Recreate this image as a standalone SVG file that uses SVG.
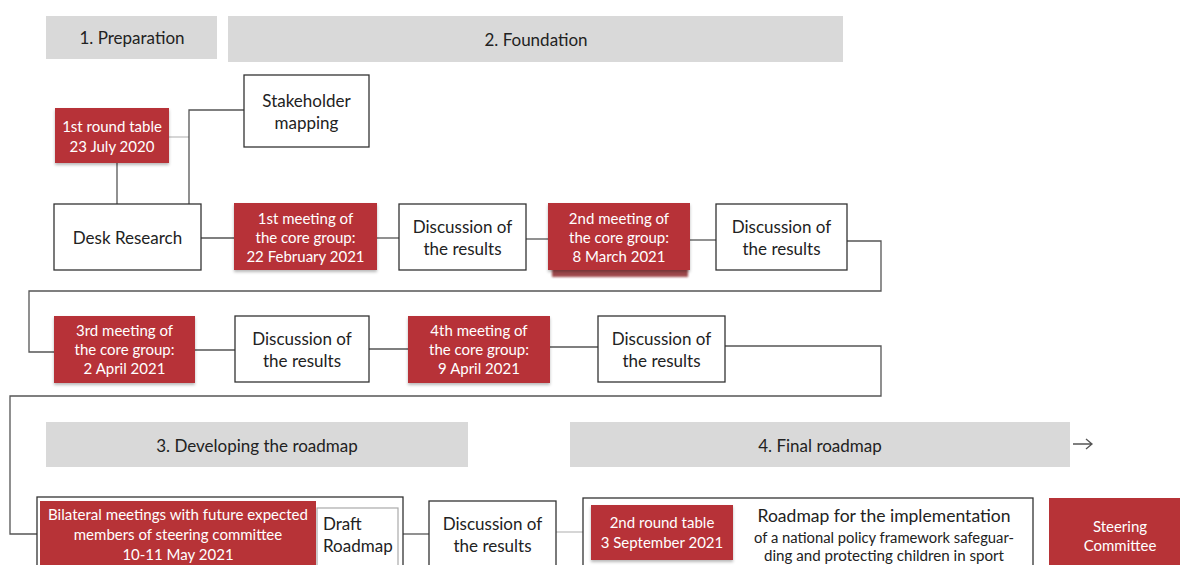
<svg xmlns="http://www.w3.org/2000/svg" width="1180" height="565" viewBox="0 0 1180 565">
  <defs>
    <style>
      .hdr { fill: #d9d9d9; }
      .box { fill: #ffffff; stroke: #333333; stroke-width: 1.3; }
      .red { fill: #b73337; filter: url(#sh); }
      .t { font-family: Lato, "Liberation Sans", sans-serif; fill: #222222; text-anchor: middle; }
      .ht { font-size: 17px; }
      .bt { font-size: 17px; }
      .w { font-family: Lato, "Liberation Sans", sans-serif; fill: #ffffff; text-anchor: middle; font-size: 15px; }
      .conn { fill: none; stroke: #555555; stroke-width: 1.3; }
      .faint { fill: none; stroke: #bbbbbb; stroke-width: 1.2; }
    </style>
    <filter id="sh" x="-10%" y="-10%" width="120%" height="130%">
      <feDropShadow dx="0" dy="2" stdDeviation="1.5" flood-color="#000000" flood-opacity="0.28"/>
    </filter>
    <filter id="blur" x="-10%" y="-50%" width="120%" height="200%">
      <feGaussianBlur stdDeviation="1.2"/>
    </filter>
  </defs>
  <rect width="1180" height="565" fill="#ffffff"/>

  <!-- Phase headers -->
  <g id="hdr1"><rect class="hdr" x="46" y="16" width="171" height="43"/><text class="t ht" x="132" y="44">1. Preparation</text></g>
  <g id="hdr2"><rect class="hdr" x="228" y="16" width="615" height="46"/><text class="t ht" x="536" y="46">2. Foundation</text></g>
  <g id="hdr3"><rect class="hdr" x="46" y="422" width="422" height="45"/><text class="t ht" x="257" y="452">3. Developing the roadmap</text></g>
  <g id="hdr4"><rect class="hdr" x="570" y="422" width="500" height="45"/><text class="t ht" x="820" y="452">4. Final roadmap</text></g>

  <!-- Connectors -->
  <g id="connectors">
    <path class="faint" d="M168,137 H189"/>
    <path class="conn" d="M189,204 V110 H244"/>
    <path class="conn" d="M117,163 V204"/>
    <path class="conn" d="M201,238 H234"/>
    <path class="conn" d="M377,238 H399"/>
    <path class="conn" d="M526,239 H548"/>
    <path class="conn" d="M690,240 H716"/>
    <path class="conn" d="M847,241 H881 V291 H29 V352 H54"/>
    <path class="conn" d="M195,350 H235"/>
    <path class="conn" d="M369,349 H408"/>
    <path class="conn" d="M550,347 H598"/>
    <path class="conn" d="M725,346 H881 V396 H10 V534 H37"/>
    <path class="conn" d="M403,534 H429"/>
    <path class="faint" d="M556,532 H583"/>
    <path class="conn" d="M1073,444 H1092 M1086,439 L1092,444 L1086,449"/>
  </g>

  <!-- Row 1 -->
  <g id="stakeholder"><rect class="box" x="244" y="75" width="125" height="72"/>
    <text class="t bt" x="306.5" y="107">Stakeholder</text><text class="t bt" x="306.5" y="129">mapping</text></g>
  <g id="roundtable1"><rect class="red" x="55" y="108" width="114" height="55"/>
    <text class="w" x="112" y="132">1st round table</text><text class="w" x="112" y="152">23 July 2020</text></g>
  <g id="desk"><rect class="box" x="54" y="204" width="147" height="66"/>
    <text class="t bt" x="127.5" y="244">Desk Research</text></g>
  <g id="meeting1"><rect class="red" x="234" y="203" width="143" height="67"/>
    <text class="w" x="305.5" y="224">1st meeting of</text><text class="w" x="305.5" y="243">the core group:</text><text class="w" x="305.5" y="262">22 February 2021</text></g>
  <g id="disc1"><rect class="box" x="399" y="204" width="127" height="66"/>
    <text class="t bt" x="462.5" y="233">Discussion of</text><text class="t bt" x="462.5" y="255">the results</text></g>
  <g id="meeting2">
    <rect x="552" y="266" width="136" height="11" fill="#8f2a2e" opacity="0.85" filter="url(#blur)"/>
    <rect class="red" x="548" y="203" width="142" height="67"/>
    <text class="w" x="619" y="224">2nd meeting of</text><text class="w" x="619" y="243">the core group:</text><text class="w" x="619" y="262">8 March 2021</text></g>
  <g id="disc2"><rect class="box" x="716" y="204" width="131" height="66"/>
    <text class="t bt" x="781.5" y="233">Discussion of</text><text class="t bt" x="781.5" y="255">the results</text></g>

  <!-- Row 2 -->
  <g id="meeting3"><rect class="red" x="54" y="316" width="141" height="67"/>
    <text class="w" x="124.5" y="336">3rd meeting of</text><text class="w" x="124.5" y="355">the core group:</text><text class="w" x="124.5" y="374">2 April 2021</text></g>
  <g id="disc3"><rect class="box" x="235" y="316" width="134" height="66"/>
    <text class="t bt" x="302" y="345">Discussion of</text><text class="t bt" x="302" y="367">the results</text></g>
  <g id="meeting4"><rect class="red" x="408" y="316" width="142" height="67"/>
    <text class="w" x="479" y="336">4th meeting of</text><text class="w" x="479" y="355">the core group:</text><text class="w" x="479" y="374">9 April 2021</text></g>
  <g id="disc4"><rect class="box" x="598" y="316" width="127" height="66"/>
    <text class="t bt" x="661.5" y="345">Discussion of</text><text class="t bt" x="661.5" y="367">the results</text></g>

  <!-- Row 3 -->
  <g id="bilateral-group">
    <rect class="box" x="37" y="497" width="366" height="80"/>
    <rect x="40" y="501" width="276" height="76" fill="#b73337"/>
    <text class="w" x="178" y="520" font-size="14.5" textLength="260" lengthAdjust="spacingAndGlyphs">Bilateral meetings with future expected</text>
    <text class="w" x="178" y="540" font-size="14.5">members of steering committee</text>
    <text class="w" x="178" y="560" font-size="14.5">10-11 May 2021</text>
  </g>
  <g id="draft"><rect x="317" y="508" width="81" height="70" fill="#ffffff" stroke="#aaaaaa" stroke-width="1.2"/>
    <text class="t bt" x="323" y="530" style="text-anchor:start">Draft</text>
    <text class="t bt" x="323" y="552" style="text-anchor:start">Roadmap</text></g>
  <g id="disc5"><rect class="box" x="429" y="501" width="127" height="76"/>
    <text class="t bt" x="492.5" y="530">Discussion of</text><text class="t bt" x="492.5" y="552">the results</text></g>
  <g id="final-group">
    <rect class="box" x="583" y="498" width="450" height="80"/>
    <rect class="red" x="591" y="505" width="142" height="55"/>
    <text class="w" x="662" y="528">2nd round table</text>
    <text class="w" x="662" y="548">3 September 2021</text>
    <text class="t" x="884" y="522" font-size="17.5" textLength="253" lengthAdjust="spacingAndGlyphs">Roadmap for the implementation</text>
    <text class="t" x="884" y="543" font-size="15.5" textLength="260" lengthAdjust="spacingAndGlyphs">of a national policy framework safeguar-</text>
    <text class="t" x="884" y="561" font-size="15.5" textLength="240" lengthAdjust="spacingAndGlyphs">ding and protecting children in sport</text>
  </g>
  <g id="steering"><rect x="1049" y="498" width="142" height="80" fill="#b73337"/>
    <text class="w" x="1120" y="532">Steering</text><text class="w" x="1120" y="551">Committee</text></g>
</svg>
